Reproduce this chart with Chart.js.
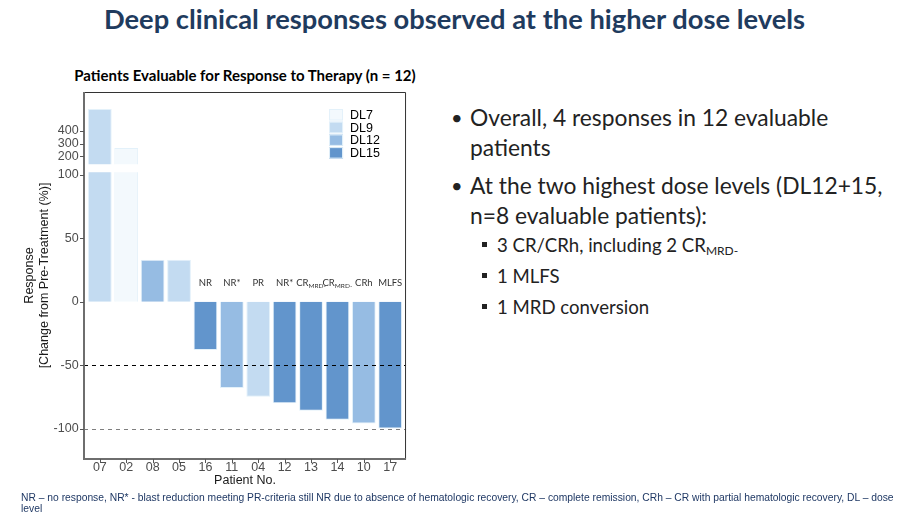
<!DOCTYPE html>
<html>
<head>
<meta charset="utf-8">
<script src="https://cdn.jsdelivr.net/npm/chart.js@4.4.1/dist/chart.umd.min.js"></script>
<style>
  html, body { margin: 0; padding: 0; background: #fff; }
  body { width: 909px; height: 516px; position: relative; overflow: hidden; font-family: Lato, "Open Sans", sans-serif; }
  #title { position: absolute; left: 0; top: 2px; width: 909px; text-align: center; font-weight: bold; font-size: 27.3px; color: #1f3b5e; white-space: nowrap; }
  #subtitle { position: absolute; left: 245px; top: 66px; transform: translateX(-50%); white-space: nowrap; font-weight: bold; font-size: 15px; color: #000; }
  #chartBox { position: absolute; left: 0; top: 60px; width: 420px; height: 435px; }
  .b { position: absolute; color: #222; white-space: nowrap; }
  .b1 { left: 470px; font-size: 22.8px; line-height: 30px; }
  .b1::before { content: "\2022"; position: absolute; left: -19px; font-size: 20px; }
  .b2 { left: 497px; font-size: 18.6px; line-height: 30px; }
  .b2::before { content: ""; position: absolute; left: -15px; top: 12px; width: 5px; height: 5px; background: #222; }
  .b2 sub { font-size: 12px; vertical-align: -3px; line-height: 0; }
  #foot { position: absolute; left: 21px; top: 492px; font-family: "Liberation Sans Narrow", "Liberation Sans", Arial, sans-serif; font-size: 10.3px; line-height: 11px; color: #1f3864; white-space: nowrap; }
</style>
</head>
<body>
<div id="title">Deep clinical responses observed at the higher dose levels</div>
<div id="subtitle">Patients Evaluable for Response to Therapy (n = 12)</div>
<div id="chartBox"><canvas id="chart" width="420" height="435"></canvas></div>

<div class="b b1" style="top:102px">Overall, 4 responses in 12 evaluable<br>patients</div>
<div class="b b1" style="top:170px">At the two highest dose levels (DL12+15,<br>n=8 evaluable patients):</div>
<div class="b b2" style="top:230px">3 CR/CRh, including 2 CR<sub>MRD-</sub></div>
<div class="b b2" style="top:261px">1 MLFS</div>
<div class="b b2" style="top:292px">1 MRD conversion</div>

<div id="foot">NR – no response, NR* - blast reduction meeting PR-criteria still NR due to absence of hematologic recovery, CR – complete remission, CRh – CR with partial hematologic recovery, DL – dose<br>level</div>

<script>
// data
const patients = ['07', '02', '08', '05', '16', '11', '04', '12', '13', '14', '10', '17'];
const responses = [572, 267, 33, 33, -38, -68, -75, -80, -86, -93, -96, -100];
const doseLevels = ['DL9', 'DL7', 'DL12', 'DL9', 'DL15', 'DL12', 'DL9', 'DL15', 'DL15', 'DL15', 'DL12', 'DL15'];
const responseLabels = ['', '', '', '', 'NR', 'NR*', 'PR', 'NR*', 'CR_MRD-', 'CR_MRD-', 'CRh', 'MLFS'];

const doseNames = ['DL7', 'DL9', 'DL12', 'DL15'];
const doseColors = ['#f3f9fd', '#c3dbf1', '#96bce3', '#6295cc'];

const yTicks = [-100, -50, 0, 50, 100, 200, 300, 400];
const refLines = [-50, -100];
const refColors = ['#000', '#7f7f7f'];

// broken y axis: lower part, the cut, upper compressed part
const yMin = -124, yMax = 706;
const breakLow = 102, breakHigh = 139;
const segments = [
    { from: yMin, to: breakLow, weight: 287 },
    { from: breakLow, to: breakHigh, weight: 8 },
    { from: breakHigh, to: yMax, weight: 72.3 }
];

class BrokenScale extends Chart.LinearScale {
    getPixelForValue(value) {
        const total = segments.reduce((s, g) => s + g.weight, 0);
        let acc = 0;
        for (let i = 0; i < segments.length; i++) {
            const g = segments[i];
            if (value <= g.to || i === segments.length - 1) {
                const dec = (acc + (value - g.from) / (g.to - g.from) * g.weight) / total;
                return this.getPixelForDecimal(dec);
            }
            acc += g.weight;
        }
    }
}
BrokenScale.id = 'broken';
BrokenScale.defaults = Chart.LinearScale.defaults;
Chart.register(BrokenScale);

// frame, break, dashed lines, response labels, legend
const extras = {
    id: 'extras',
    afterDatasetsDraw(chart) {
        const { ctx, chartArea: a, scales: { x, y } } = chart;
        const catW = (a.right - a.left) / patients.length;
        const fl = a.left - catW * 0.1, fr = a.right + catW * 0.1;
        const ft = a.top, fb = a.bottom;
        ctx.save();

        // white cut through the axis break
        const g1 = y.getPixelForValue(breakLow), g2 = y.getPixelForValue(breakHigh);
        ctx.fillStyle = '#fff';
        ctx.fillRect(fl + 1, g2, fr - fl - 2, g1 - g2);

        // dashed reference lines
        ctx.lineWidth = 1;
        ctx.setLineDash([4, 4]);
        refLines.forEach((v, i) => {
            const py = Math.round(y.getPixelForValue(v)) + 0.5;
            ctx.strokeStyle = refColors[i];
            ctx.beginPath();
            ctx.moveTo(fl, py);
            ctx.lineTo(fr, py);
            ctx.stroke();
        });
        ctx.setLineDash([]);

        // response labels above the zero line
        const base = y.getPixelForValue(0) - 16;
        ctx.fillStyle = '#333';
        ctx.textBaseline = 'alphabetic';
        ctx.textAlign = 'left';
        responseLabels.forEach((lab, i) => {
            if (!lab) return;
            const [main, sub] = lab.split('_');
            ctx.font = '9.5px Lato';
            const w1 = ctx.measureText(main).width;
            ctx.font = '6.5px Lato';
            const w2 = sub ? ctx.measureText(sub).width : 0;
            const sx = x.getPixelForValue(i) - (w1 + w2) / 2;
            ctx.font = '9.5px Lato';
            ctx.fillText(main, sx, base);
            if (sub) {
                ctx.font = '6.5px Lato';
                ctx.fillText(sub, sx + w1, base + 2);
            }
        });

        // legend
        const lx = fr - 77, ly = ft + 17;
        ctx.font = '12.5px "Liberation Sans"';
        ctx.textBaseline = 'middle';
        doseNames.forEach((n, i) => {
            const yy = ly + i * 12.7;
            ctx.fillStyle = doseColors[i];
            ctx.fillRect(lx, yy, 14, 11.5);
            ctx.strokeStyle = '#e3f1fa';
            ctx.strokeRect(lx + 0.5, yy + 0.5, 13, 10.5);
            ctx.fillStyle = '#000';
            ctx.fillText(n, lx + 21, yy + 6.5);
        });

        // panel border
        ctx.strokeStyle = '#333';
        ctx.lineWidth = 1;
        ctx.beginPath();
        ctx.moveTo(fl, ft + 0.5);
        ctx.lineTo(fr - 0.5, ft + 0.5);
        ctx.lineTo(fr - 0.5, fb);
        ctx.stroke();
        ctx.strokeStyle = '#6e6e6e';
        ctx.lineWidth = 2;
        ctx.beginPath();
        ctx.moveTo(fl, ft);
        ctx.lineTo(fl, fb);
        ctx.lineTo(fr, fb);
        ctx.stroke();

        // tick marks
        ctx.strokeStyle = '#555';
        ctx.lineWidth = 1;
        ctx.beginPath();
        y.ticks.forEach(t => {
            const py = Math.round(y.getPixelForValue(t.value)) + 0.5;
            ctx.moveTo(fl - 4, py);
            ctx.lineTo(fl, py);
        });
        patients.forEach((p, i) => {
            const px = Math.round(x.getPixelForValue(i)) + 0.5;
            ctx.moveTo(px, fb);
            ctx.lineTo(px, fb + 4);
        });
        ctx.stroke();
        ctx.restore();
    }
};

new Chart(document.getElementById('chart'), {
    type: 'bar',
    data: {
        labels: patients,
        datasets: [{
            data: responses,
            backgroundColor: doseLevels.map(d => doseColors[doseNames.indexOf(d)]),
            borderColor: '#e3f1fa',
            borderWidth: 1,
            barPercentage: 0.9,
            categoryPercentage: 1
        }]
    },
    options: {
        responsive: false,
        animation: false,
        layout: { padding: { left: 0, right: 16.6, top: 32, bottom: 0 } },
        plugins: {
            legend: { display: false },
            tooltip: { enabled: false }
        },
        scales: {
            x: {
                grid: { display: false, drawTicks: false, tickLength: 0 },
                border: { display: false },
                ticks: { color: '#4d4d4d', font: { family: 'Liberation Sans', size: 12.5 }, padding: 1, maxRotation: 0, autoSkip: false },
                afterFit: s => { s.height = 36; },
                title: { display: true, text: 'Patient No.', color: '#1a1a1a', font: { family: 'Liberation Sans', size: 12.5 }, padding: { top: 0, bottom: 7 } }
            },
            y: {
                type: 'broken',
                min: yMin,
                max: yMax,
                bounds: 'data',
                afterBuildTicks: s => { s.ticks = yTicks.map(v => ({ value: v })); },
                afterFit: s => { s.width = 86.64; },
                grid: { display: false, drawTicks: false, tickLength: 0 },
                border: { display: false },
                ticks: { color: '#4d4d4d', font: { family: 'Liberation Sans', size: 12.5 }, padding: 8, autoSkip: false },
                title: {
                    display: true,
                    text: ['Response', '[Change from Pre-Treatment (%)]'],
                    color: '#1a1a1a',
                    font: { family: 'Liberation Sans', size: 12.5, lineHeight: 1.2 },
                    padding: { top: 22.5, bottom: 0 }
                }
            }
        }
    },
    plugins: [extras]
});
</script>
</body>
</html>
